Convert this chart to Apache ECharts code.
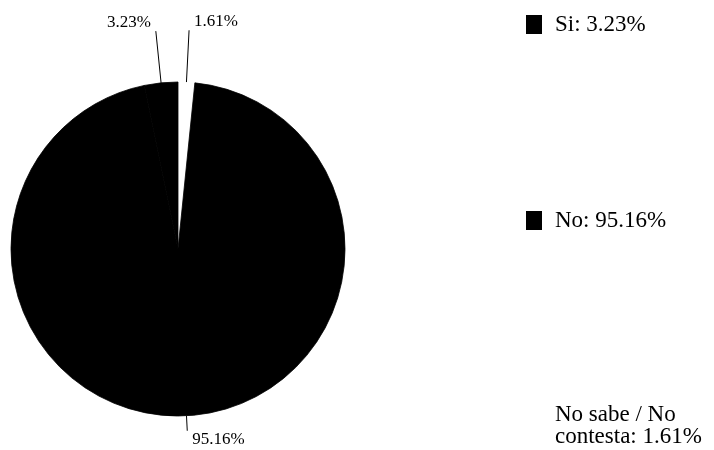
<!DOCTYPE html>
<html>
<head>
<meta charset="utf-8">
<script src="https://cdn.jsdelivr.net/npm/echarts@6/dist/echarts.min.js"></script>
<style>html,body{margin:0;padding:0;background:#fff}#c{width:714px;height:450px}</style>
</head>
<body>
<div id="c"></div>
<script>
// Data (drawn clockwise from 12 o'clock)
const categories = ['No sabe / No contesta', 'No', 'Si'];
const values = [1.61, 95.16, 3.23];
const colors = ['#ffffff', '#000000', '#000000'];
const legendOrder = ['Si', 'No', 'No sabe / No contesta'];
const legendText = {
  'Si': 'Si: 3.23%',
  'No': 'No: 95.16%',
  'No sabe / No contesta': 'No sabe / No\ncontesta: 1.61%'
};
const lineLengths = [52, 15, 52];

const font = 'Liberation Serif, Times New Roman, serif';
const chart = echarts.init(document.getElementById('c'));

function legendFor(name, top) {
  return {
    orient: 'vertical',
    left: 521,
    top: top,
    data: [name],
    icon: 'rect',
    itemWidth: 16,
    itemHeight: 19,
    itemStyle: { borderWidth: 0 },
    selectedMode: false,
    textStyle: {
      fontFamily: font, fontSize: 23, color: '#000',
      lineHeight: 22, padding: [0, 0, 0, 8]
    },
    formatter: n => legendText[n]
  };
}

chart.setOption({
  animation: false,
  backgroundColor: '#fff',
  legend: [
    legendFor(legendOrder[0], 8),
    legendFor(legendOrder[1], 204),
    legendFor(legendOrder[2], 398)
  ],
  series: [{
    type: 'pie',
    center: [178, 249],
    radius: 167,
    startAngle: 90,
    clockwise: true,
    avoidLabelOverlap: false,
    label: {
      show: true,
      fontFamily: font, fontSize: 17, color: '#000',
      formatter: p => values[p.dataIndex].toFixed(2) + '%'
    },
    labelLine: { show: true, length2: 0, lineStyle: { color: '#000', width: 1 } },
    labelLayout: p => ({ verticalAlign: p.dataIndex === 1 ? 'top' : 'bottom' }),
    emphasis: { disabled: true },
    data: categories.map((c, i) => ({
      name: c,
      value: values[i],
      itemStyle: {
        color: colors[i],
        borderColor: colors[i],
        borderWidth: colors[i] === '#ffffff' ? 0 : 0.8
      },
      labelLine: { length: lineLengths[i], length2: 0 }
    }))
  }]
});
</script>
</body>
</html>
